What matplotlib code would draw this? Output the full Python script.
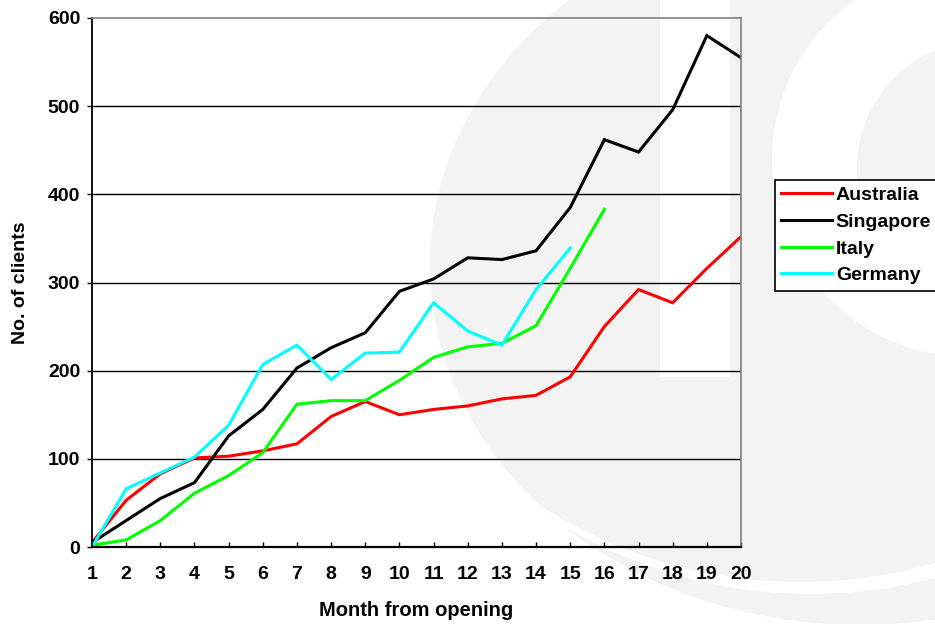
#!/usr/bin/env python3
"""Client growth per country by month from opening."""

import matplotlib
matplotlib.use("Agg")
import matplotlib.pyplot as plt
from matplotlib.patches import Ellipse, Rectangle, Circle
from matplotlib.transforms import Affine2D

W, H = 935, 624

months = list(range(1, 21))
australia = [5, 53, 83, 101, 103, 109, 117, 148, 165, 150,
             156, 160, 168, 172, 193, 250, 292, 277, 316, 352]
singapore = [5, 30, 55, 73, 126, 156, 203, 226, 243, 290,
             304, 328, 326, 336, 385, 462, 448, 496, 580, 555]
italy = [2, 8, 30, 61, 81, 107, 162, 166, 166, 189,
         215, 227, 231, 251, 316, 383]
germany = [0, 66, 84, 102, 138, 207, 229, 190, 220, 221,
           277, 245, 229, 292, 339]

series = [
    ("Australia", australia, "#ff0000"),
    ("Singapore", singapore, "#000000"),
    ("Italy", italy, "#00ff00"),
    ("Germany", germany, "#00ffff"),
]
y_ticks = [0, 100, 200, 300, 400, 500, 600]

plt.rcParams["font.family"] = ["Liberation Sans", "DejaVu Sans"]
plt.rcParams["font.weight"] = "bold"


def fx(x):
    return x / W


def fy(y):
    return 1 - y / H


fig = plt.figure(figsize=(W / 100, H / 100), dpi=100)
fig.patch.set_facecolor("white")

# faint logo behind the chart, drawn in pixel units (origin top left)
wm = "#f3f3f3"
to_fig = Affine2D().scale(1, -1).translate(0, H).scale(1 / 100) \
    + fig.dpi_scale_trans

outer = Ellipse((860, 265), 860, 720, facecolor=wm, edgecolor="none",
                transform=to_fig, zorder=-5)
fig.add_artist(outer)
for centre, r, col in [((811, 109), 485, "white"), ((801, 97), 485, wm)]:
    c = Circle(centre, r, facecolor=col, edgecolor="none",
               transform=to_fig, zorder=-4.5)
    fig.add_artist(c)
    c.set_clip_path(outer)
fig.add_artist(Rectangle((660, 0), 70, 377, facecolor="white",
                         edgecolor="none", transform=to_fig, zorder=-4))
fig.add_artist(Circle((969, 160), 197, facecolor="white", edgecolor="none",
                      transform=to_fig, zorder=-4))
fig.add_artist(Circle((985, 168), 128, facecolor=wm, edgecolor="none",
                      transform=to_fig, zorder=-3.5))

ax = fig.add_axes([fx(92), fy(547), (741 - 92) / W, (547 - 18) / H])
ax.set_facecolor("none")

for name, vals, color in series:
    ax.plot(months[:len(vals)], vals, color=color, lw=2.2, label=name,
            solid_joinstyle="miter")

ax.set_xlim(1, 20)
ax.set_ylim(0, 600)
ax.set_xticks(months)
ax.set_yticks(y_ticks)
for v in y_ticks[1:-1]:
    ax.axhline(v, color="black", lw=1.0, zorder=0.5)

ax.tick_params(axis="y", direction="out", length=3.5, width=1.0, pad=5,
               labelsize=14, colors="black")
ax.tick_params(axis="x", direction="in", length=3.5, width=1.0, pad=14,
               labelsize=14, colors="black")

ax.spines["left"].set_linewidth(1.3)
ax.spines["bottom"].set_linewidth(1.6)
for s in ("top", "right"):
    ax.spines[s].set_color("#808080")
    ax.spines[s].set_linewidth(1.2)

ax.set_xlabel("Month from opening", fontsize=14.5, fontweight="bold")
ax.set_ylabel("No. of clients", fontsize=14, fontweight="bold")
ax.xaxis.set_label_coords(0.5, (547 - 601) / (547 - 18))
ax.yaxis.set_label_coords((29 - 92) / (741 - 92), 0.5)

leg = fig.legend(loc="upper left", bbox_to_anchor=(fx(775), fy(180)),
                 borderaxespad=0, fontsize=14, handlelength=2.6,
                 handletextpad=0.2, labelspacing=0.47, borderpad=0.33,
                 fancybox=False, framealpha=1, edgecolor="black")
leg.get_frame().set_linewidth(1.2)

fig.savefig("out.png", dpi=100)
